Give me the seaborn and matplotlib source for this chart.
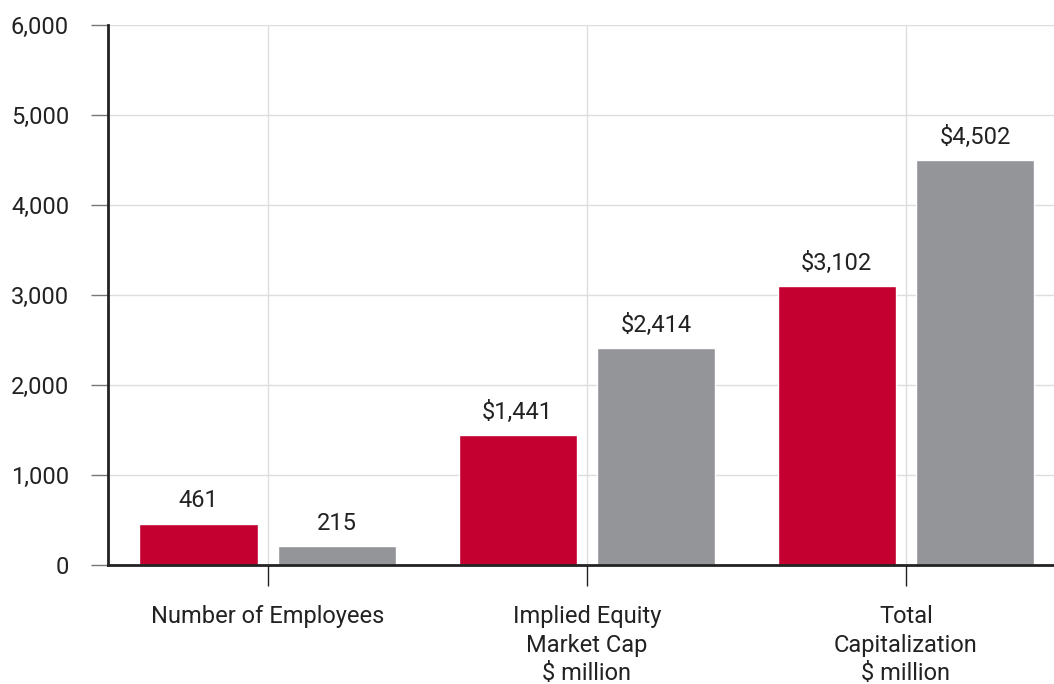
import matplotlib
matplotlib.use("Agg")
import matplotlib.pyplot as plt
import seaborn as sns
import pandas as pd

# Chart data
categories = ["Number of Employees", "Implied Equity\nMarket Cap\n$ million", "Total\nCapitalization\n$ million"]
series_names = ["Company", "Peer"]
company_values = [461, 1441, 3102]
peer_values = [215, 2414, 4502]
company_labels = ["461", "$1,441", "$3,102"]
peer_labels = ["215", "$2,414", "$4,502"]
y_ticks = [0, 1000, 2000, 3000, 4000, 5000, 6000]

RED = "#C3002F"
GREY = "#939598"
TEXT = "#222222"

sns.set_theme(style="white")
plt.rcParams["font.family"] = ["Roboto", "DejaVu Sans"]

df = pd.DataFrame({
    "category": categories * 2,
    "series": [series_names[0]] * 3 + [series_names[1]] * 3,
    "value": company_values + peer_values,
})

fig = plt.figure(figsize=(10.54, 6.84), dpi=100)
ax = fig.add_axes([108 / 1054, 1 - 565 / 684, 1 - 108 / 1054, 540 / 684])

sns.barplot(data=df, x="category", y="value", hue="series", order=categories,
            hue_order=series_names, palette=[RED, GREY], width=0.866, gap=0.145,
            errorbar=None, legend=False, ax=ax, saturation=1, zorder=3)

for container, labels in zip(ax.containers, [company_labels, peer_labels]):
    ax.bar_label(container, labels=labels, padding=8, fontsize=17, color=TEXT)

ax.set_xlim(-0.5, 2.464)
ax.set_ylim(0, 6000)
ax.set_yticks(y_ticks)
ax.set_yticklabels([f"{v:,}" for v in y_ticks])
ax.set_xlabel("")
ax.set_ylabel("")

ax.grid(True, axis="both", color="#dddddd", linewidth=1, zorder=0)
ax.set_axisbelow(True)

for side in ["top", "right"]:
    ax.spines[side].set_visible(False)
for side in ["left", "bottom"]:
    ax.spines[side].set_color(TEXT)
    ax.spines[side].set_linewidth(2)
    ax.spines[side].set_zorder(4)

ax.tick_params(axis="y", which="major", left=True, length=12, width=1,
               color="#777777", labelsize=17, labelcolor=TEXT, pad=16)
ax.tick_params(axis="x", which="major", bottom=True, length=15, width=1,
               color=TEXT, labelsize=17, labelcolor=TEXT, pad=14)
for lbl in ax.get_xticklabels():
    lbl.set_linespacing(1.3)

fig.savefig("out.png", dpi=100, facecolor="white")
